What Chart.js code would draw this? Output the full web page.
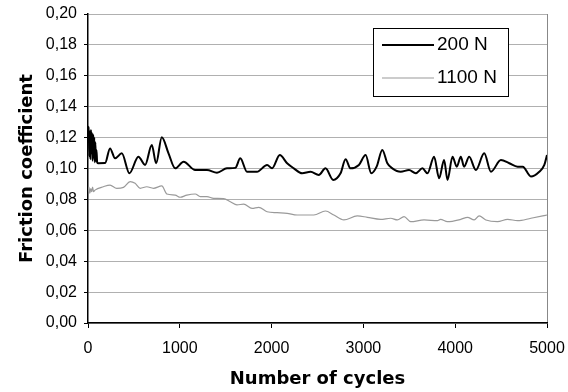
<!DOCTYPE html>
<html><head><meta charset="utf-8">
<script src="https://cdn.jsdelivr.net/npm/chart.js@4/dist/chart.umd.min.js"></script>
<style>html,body{margin:0;padding:0;background:#fff}#w{width:568px;height:392px}</style>
</head><body><div id="w"><canvas id="c"></canvas></div>
<script>
const seriesLabels = ['200 N', '1100 N'];
const cycles200 = [0,8,14,20,26,32,38,44,50,56,62,68,74,80,86,92,100,112,186,240,295,368,451,549,622,695,742,804,877,950,1041,1168,1296,1405,1514,1605,1659,1732,1841,1951,2005,2089,2169,2242,2333,2424,2514,2587,2671,2751,2806,2860,2951,3024,3086,3144,3206,3261,3315,3406,3497,3570,3643,3698,3770,3825,3879,3916,3971,4017,4061,4097,4152,4225,4316,4389,4498,4589,4680,4735,4825,4916,4971,5000];
const friction200 = [0.118,0.127,0.108,0.124,0.106,0.125,0.110,0.123,0.105,0.122,0.107,0.120,0.104,0.117,0.105,0.112,0.104,0.1034,0.1035,0.113,0.1066,0.1098,0.0969,0.1076,0.1023,0.1152,0.1034,0.1202,0.1098,0.1001,0.1044,0.099,0.099,0.0973,0.1001,0.1004,0.1066,0.0979,0.0979,0.1023,0.1001,0.1087,0.1034,0.1001,0.0969,0.0979,0.0958,0.1001,0.0926,0.0969,0.106,0.1001,0.1023,0.1087,0.0969,0.1012,0.112,0.1034,0.1001,0.0979,0.099,0.0969,0.1001,0.0969,0.1076,0.0937,0.1055,0.0926,0.1076,0.1012,0.1076,0.1012,0.1076,0.099,0.1098,0.0979,0.1055,0.1034,0.1012,0.1012,0.0948,0.0979,0.1023,0.1087];
const cycles1100 = [0,10,20,30,40,50,60,76,167,240,313,386,459,513,568,640,713,804,859,950,1004,1077,1168,1223,1296,1368,1477,1550,1623,1696,1787,1860,1951,2060,2169,2278,2388,2460,2587,2678,2787,2933,3043,3188,3297,3370,3443,3515,3661,3807,3840,3916,4061,4134,4207,4261,4334,4461,4571,4680,4825,4953,5000];
const friction1100 = [0.085,0.088,0.084,0.087,0.085,0.088,0.085,0.086,0.0882,0.0893,0.0872,0.0878,0.0915,0.0904,0.0872,0.0882,0.0872,0.0887,0.0835,0.0828,0.0814,0.0828,0.0835,0.0818,0.0818,0.0807,0.0805,0.0785,0.0764,0.077,0.0742,0.0749,0.072,0.0714,0.071,0.0699,0.0699,0.0699,0.0725,0.0699,0.0667,0.0693,0.0684,0.0671,0.0678,0.0667,0.0688,0.0656,0.0667,0.0662,0.0671,0.0656,0.0671,0.0684,0.0667,0.0693,0.0667,0.0656,0.0671,0.0662,0.0678,0.0693,0.0699];
const yTickLabels = ['0,00','0,02','0,04','0,06','0,08','0,10','0,12','0,14','0,16','0,18','0,20'];
const xTickLabels = ['0','1000','2000','3000','4000','5000'];
const seriesColors = ['#000000', '#9a9a9a'];
const seriesWidths = [2, 1.2];

const toPts = (xs, ys) => xs.map((x, i) => ({x: x, y: ys[i]}));

const boxLegend = {
  id: 'boxLegend',
  afterDatasetsDraw(chart) {
    const {ctx, chartArea: a} = chart;
    const L = a.left + 285, T = a.top + 14, W = 135, H = 68;
    ctx.save();
    ctx.fillStyle = '#fff';
    ctx.fillRect(L, T, W, H);
    ctx.strokeStyle = '#000';
    ctx.lineWidth = 1;
    ctx.strokeRect(L + 0.5, T + 0.5, W, H);
    ctx.font = '19px "Liberation Sans", Arial, sans-serif';
    ctx.textBaseline = 'middle';
    chart.data.datasets.forEach((ds, i) => {
      const y = T + 17 + i * 33;
      ctx.strokeStyle = ds.borderColor;
      ctx.lineWidth = ds.borderWidth;
      ctx.beginPath(); ctx.moveTo(L + 9, y); ctx.lineTo(L + 61, y); ctx.stroke();
      ctx.fillStyle = '#000';
      ctx.fillText(ds.label, L + 64, y);
    });
    ctx.restore();
  }
};

new Chart(document.getElementById('c'), {
  type: 'line',
  data: {
    datasets: [
      {label: seriesLabels[0], data: toPts(cycles200, friction200), borderColor: seriesColors[0], borderWidth: seriesWidths[0], pointRadius: 0, cubicInterpolationMode: 'monotone', fill: false},
      {label: seriesLabels[1], data: toPts(cycles1100, friction1100), borderColor: seriesColors[1], borderWidth: seriesWidths[1], pointRadius: 0, cubicInterpolationMode: 'monotone', fill: false}
    ]
  },
  options: {
    responsive: true, maintainAspectRatio: false, animation: false,
    layout: {padding: {left: 0, right: 21, top: 14, bottom: 0}},
    plugins: {legend: {display: false}, tooltip: {enabled: false}},
    scales: {
      x: {
        type: 'linear', min: 0, max: 5000,
        afterFit(s) { s.height = 69; s.paddingLeft = 0; s.paddingRight = 0; },
        border: {color: '#000', width: 1.5},
        grid: {color: c => c.tick && c.tick.value === 5000 ? '#888' : 'rgba(0,0,0,0)', tickColor: '#000', tickLength: 5, drawOnChartArea: true},
        ticks: {stepSize: 1000, padding: 11, color: '#000', font: {family: '"Liberation Sans", Arial, sans-serif', size: 16},
          callback: (v, i) => xTickLabels[i]},
        title: {display: true, text: 'Number of cycles', color: '#000', font: {family: '"DejaVu Sans", sans-serif', size: 18, weight: 'bold'}, padding: {top: 0, bottom: 2}}
      },
      y: {
        min: 0, max: 0.2,
        afterFit(s) { s.width = 88; s.paddingTop = 0; s.paddingBottom = 0; },
        border: {color: '#000', width: 1.5},
        grid: {color: '#b0b0b0', tickColor: '#000', tickLength: 4, lineWidth: 1, borderDash: [10, 3]},
        ticks: {stepSize: 0.02, padding: 7, color: '#000', font: {family: '"Liberation Sans", Arial, sans-serif', size: 16},
          callback: (v, i) => yTickLabels[i]},
        title: {display: true, text: 'Friction coefficient', color: '#000', font: {family: '"DejaVu Sans", sans-serif', size: 18, weight: 'bold'}, padding: {top: 17, bottom: 0}}
      }
    }
  },
  plugins: [boxLegend]
});
</script>
</body></html>
